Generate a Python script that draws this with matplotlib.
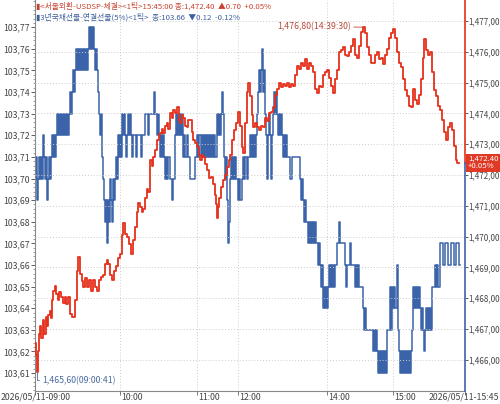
import matplotlib
matplotlib.use('Agg')
import matplotlib.pyplot as plt
from matplotlib.ticker import FixedLocator, MultipleLocator
import numpy as np

plt.rcParams['font.family'] = ['Noto Sans CJK KR', 'DejaVu Sans']
NARROW = ['Liberation Sans Narrow', 'Noto Sans CJK KR', 'DejaVu Sans']

# USD/KRW spot ticks (tick index, price)
fx_idx = [0, 1, 2, 3, 4, 5, 6, 8, 9, 11, 12, 13, 15, 16, 17, 18, 20, 21, 23, 24,
          26, 28, 30, 31, 33, 35, 37, 40, 42, 43, 45, 47, 48, 50, 52, 54, 56, 58, 60, 62,
          64, 66, 68, 70, 72, 73, 75, 77, 79, 81, 83, 85, 87, 88, 90, 92, 94, 96, 98, 100,
          102, 103, 105, 107, 108, 110, 112, 113, 115, 117, 118, 120, 122, 124, 125, 127, 128, 130, 132, 133,
          135, 137, 138, 140, 142, 144, 145, 147, 148, 150, 152, 153, 155, 157, 158, 160, 162, 164, 165, 167,
          168, 170, 172, 174, 176, 178, 180, 181, 182, 183, 184, 186, 188, 190, 192, 194, 195, 197, 199, 201,
          203, 205, 207, 208, 210, 212, 213, 215, 217, 218, 220, 222, 224, 226, 228, 230, 232, 234, 236, 238,
          240, 242, 244, 246, 248, 250, 252, 254, 256, 258, 260, 262, 264, 266, 268, 270, 272, 274, 276, 278,
          280, 282, 284, 286, 288, 290, 292, 294, 296, 298, 300, 302, 304, 306, 308, 310, 312, 314, 316, 318,
          320, 322, 324, 326, 328, 330, 332, 334, 336, 338, 340, 342, 344, 346, 348, 350, 352, 354, 356, 358,
          360, 362, 364, 366, 368, 370, 372, 374, 376, 378, 380, 382, 384, 386, 388, 389, 391, 393, 395, 397,
          399, 401, 403, 405, 407, 409, 411, 413, 415, 417, 419, 421, 422, 424]
fx_px = [1466.55, 1466.15, 1465.60, 1466.30, 1466.85, 1467.10, 1466.70, 1467.30, 1466.85, 1467.40,
         1467.10, 1467.45, 1467.60, 1467.35, 1467.95, 1468.25, 1468.40, 1468.15, 1467.95, 1468.20,
         1468.05, 1467.85, 1468.05, 1467.80, 1468.05, 1467.50, 1467.40, 1467.95, 1468.90, 1469.35,
         1468.80, 1468.55, 1468.35, 1468.65, 1468.35, 1468.60, 1468.25, 1468.60, 1468.35, 1468.25,
         1468.60, 1468.70, 1468.75, 1469.10, 1469.25, 1469.10, 1468.75, 1468.60, 1468.90, 1469.05,
         1469.30, 1469.45, 1470.05, 1470.45, 1470.10, 1470.00, 1469.75, 1469.45, 1469.90, 1470.30,
         1470.80, 1471.10, 1470.95, 1470.80, 1470.90, 1471.25, 1471.55, 1471.45, 1472.50, 1472.30,
         1472.60, 1472.80, 1473.15, 1473.30, 1473.35, 1473.50, 1473.35, 1473.60, 1473.70, 1473.50,
         1474.00, 1473.85, 1474.10, 1474.00, 1474.20, 1473.80, 1473.70, 1473.95, 1473.85, 1473.60,
         1473.55, 1473.80, 1473.80, 1473.40, 1473.15, 1473.05, 1472.90, 1472.65, 1472.50, 1472.65,
         1472.60, 1472.35, 1472.15, 1471.90, 1471.95, 1471.70, 1471.35, 1471.05, 1470.60, 1470.95,
         1471.25, 1471.60, 1471.85, 1472.00, 1472.25, 1472.50, 1472.65, 1473.15, 1473.45, 1473.70,
         1474.05, 1473.60, 1472.90, 1472.70, 1473.70, 1474.70, 1475.00, 1474.55, 1473.95, 1473.55,
         1473.70, 1473.55, 1473.45, 1473.60, 1473.55, 1473.85, 1473.75, 1474.00, 1474.05, 1474.20,
         1474.60, 1474.80, 1475.00, 1474.85, 1474.95, 1474.90, 1475.00, 1474.85, 1474.95, 1474.90,
         1475.25, 1475.55, 1475.45, 1475.65, 1475.55, 1475.75, 1475.45, 1475.65, 1475.55, 1475.35,
         1474.80, 1474.65, 1474.90, 1474.85, 1475.25, 1475.35, 1475.40, 1475.15, 1474.90, 1474.65,
         1475.10, 1475.40, 1476.00, 1476.05, 1476.15, 1475.90, 1475.85, 1476.00, 1476.20, 1476.40,
         1475.90, 1475.80, 1476.20, 1476.65, 1476.80, 1476.60, 1476.15, 1475.90, 1475.65, 1475.65,
         1475.90, 1476.00, 1475.75, 1475.80, 1475.60, 1475.90, 1476.10, 1476.45, 1476.60, 1476.75,
         1476.45, 1476.00, 1475.65, 1475.50, 1475.10, 1474.75, 1474.55, 1474.25, 1474.20, 1474.80,
         1474.45, 1474.30, 1474.60, 1475.10, 1475.80, 1476.40, 1476.05, 1475.90, 1476.00, 1475.35,
         1474.75, 1474.55, 1474.25, 1474.10, 1473.80, 1473.40, 1473.15, 1473.55, 1473.70, 1473.45,
         1472.95, 1472.50, 1472.40, 1472.40]

# 3y KTB futures ticks (tick index, price in 1/100 above 103)
bond_idx = list(range(0, 99)) + [
    101, 102, 106, 107, 110, 113, 114, 119, 120, 122, 123, 124, 125, 126, 127, 128, 129, 130, 131, 132,
    133, 135, 137, 138, 140, 141, 142, 143, 144, 145, 146, 147, 148, 149, 150, 152, 153, 155, 160, 162,
    163, 164, 166, 167, 168, 169, 170, 171, 172, 173, 174, 175, 176, 177, 178, 179, 180, 182, 183, 184,
    185, 186, 187, 188, 189, 190, 191, 192, 193, 194, 195, 196, 197, 198, 199, 200, 201, 203, 204, 205,
    207, 208, 209, 210, 212, 213, 215, 216, 217, 218, 219, 220, 221, 222, 223, 224, 225, 226, 227, 228,
    229, 230, 231, 232, 233, 234, 235, 236, 237, 238, 239, 240, 241, 242, 243, 244, 245, 246, 247, 248,
    249, 250, 251, 252, 255, 257, 265, 266, 267, 268, 269, 270, 271, 273, 274, 275, 276, 277, 278, 279,
    280, 281, 283, 284, 285, 286, 287, 288, 289, 290, 291, 292, 293, 294, 295, 296, 297, 298, 299, 300,
    302, 304, 305, 310, 311, 312, 315, 316, 320, 321, 322, 323, 324, 328, 329, 330, 331, 338, 339, 340,
    341, 342, 343, 344, 345, 346, 347, 348, 349, 350, 351, 352, 355, 356, 357, 358, 359, 360, 362, 363,
    364, 365, 366, 367, 368, 369, 370, 371, 372, 373, 374, 375, 376, 377, 378, 379, 380, 381, 382, 383,
    384, 385, 386, 387, 388, 389, 390, 391, 392, 393, 394, 395, 396, 397, 400, 401, 402, 403, 405, 408,
    410, 413, 416, 419, 421, 424, 425]
bond_lvl = [
    70, 71, 69, 70, 71, 70, 71, 70, 72, 71, 70, 71, 69, 70, 71, 70, 71, 72, 71, 72,
    71, 72, 73, 72, 73, 72, 73, 72, 73, 72, 73, 72, 73, 72, 73, 74, 73, 74, 75, 74,
    75, 76, 75, 76, 75, 76, 75, 76, 75, 76, 75, 76, 75, 76, 77, 76, 77, 76, 77, 76,
    75, 76, 75, 74, 73, 72, 73, 71, 70, 69, 68, 69, 67, 69, 68, 70, 69, 68, 70, 69,
    70, 71, 70, 72, 71, 72, 71, 73, 72, 73, 72, 71, 72, 73, 72, 73, 72, 71, 72,
    71, 72, 71, 72, 73, 72, 73, 74, 73, 72, 73, 72, 71, 72, 71, 72, 71, 70, 71, 70,
    71, 70, 69, 70, 72, 73, 72, 73, 72, 73, 72, 73, 71, 72, 71, 72, 71, 70, 71, 72,
    71, 72, 71, 72, 71, 72, 71, 72, 71, 72, 71, 72, 71, 72, 71, 72, 71, 73, 72, 73,
    72, 73, 74, 73, 71, 70, 71, 69, 67, 68, 70, 71, 70, 71, 70, 71, 70, 69, 70, 69,
    70, 71, 70, 71, 70, 71, 72, 71, 72, 71, 72, 71, 72, 73, 74, 75, 74, 75, 76, 74,
    75, 73, 72, 70, 72, 73, 72, 70, 72, 73, 74, 73, 74, 73, 72, 73, 72, 73, 72, 71,
    72, 71, 72, 71, 70, 71, 70, 69, 70, 69, 68, 69, 68, 67, 68, 67, 68, 67, 68, 67,
    68, 67, 66, 67, 66, 65, 66, 64, 65, 64, 65, 64, 65, 66, 65, 66, 65, 66, 65, 66,
    67, 68, 67, 66, 65, 66, 67, 66, 65, 66, 65, 66, 65, 64, 63, 64, 63, 62, 63, 62,
    63, 62, 61, 62, 61, 62, 61, 62, 61, 62, 61, 63, 65, 63, 65, 64, 65, 64, 66, 63,
    62, 61, 62, 61, 62, 61, 62, 61, 62, 61, 62, 61, 62, 63, 65, 64, 65, 64, 65, 64,
    65, 64, 63, 64, 63, 62, 63, 64, 63, 64, 63, 64, 63, 65, 66, 65, 66, 65, 67, 66,
    67, 66, 67, 66, 67, 66, 66]

x_tick_idx = [0, 85, 162, 203, 292, 358, 430]
x_tick_lbl = ['2026/05/11-09:00', '10:00', '11:00', '12:00', '14:00', '15:00', '2026/05/11-15:45']
bond_ticks = [103.61, 103.62, 103.63, 103.64, 103.65, 103.66, 103.67, 103.68,
              103.69, 103.70, 103.71, 103.72, 103.73, 103.74, 103.75, 103.76, 103.77]
fx_ticks = [1466, 1467, 1468, 1469, 1470, 1471, 1472, 1473, 1474, 1475, 1476, 1477]

RED = '#e5301c'
BLUE = '#3b63aa'
TXT = '#444444'

bond = 103 + np.array(bond_lvl) / 100.0
fx_idx = np.array(fx_idx)
fx_px = np.array(fx_px)

fig = plt.figure(figsize=(5, 4.04), dpi=100)
ax = fig.add_axes([35 / 500, 13 / 404, 430 / 500, 391 / 404])
ax2 = ax.twinx()

# bond futures on the left axis
ax.plot(bond_idx, bond, drawstyle='steps-post', color=BLUE, lw=1.1)
ax.set_ylim(103.6017, 103.7826)
ax.set_xlim(0, 430)
ax.yaxis.set_major_locator(FixedLocator(bond_ticks))
ax.set_yticklabels([f'{v:.2f}'.replace('.', ',') for v in bond_ticks], family=NARROW)
ax.yaxis.set_minor_locator(MultipleLocator(0.002))
ax.tick_params(axis='y', which='major', length=3, width=0.6, pad=1, labelsize=6.3, colors=TXT)
ax.tick_params(axis='y', which='minor', length=1.5, width=0.5, colors='#777777')

ax.xaxis.set_major_locator(FixedLocator(x_tick_idx))
ax.set_xticklabels([])
ax.tick_params(axis='x', length=3, width=0.6, colors='#666666')
for i, (xi, lb) in enumerate(zip(x_tick_idx, x_tick_lbl)):
    if i == 0:
        fig.text(1 / 500, 1 - 397 / 404, lb, fontsize=6.3, color=TXT, ha='left', va='center',
                 family=NARROW)
    elif i == len(x_tick_idx) - 1:
        fig.text(499 / 500, 1 - 397 / 404, lb, fontsize=6.3, color=TXT, ha='right', va='center',
                 family=NARROW)
    else:
        ax.annotate(lb, xy=(xi, 0), xycoords=ax.get_xaxis_transform(), xytext=(1, -6),
                    textcoords='offset pixels', fontsize=6.3, color=TXT, ha='left', va='center',
                    family=NARROW, annotation_clip=False)
ax.grid(axis='x', color='#cccccc', ls=(0, (1, 2)), lw=0.7)

ax.spines['top'].set_visible(False)
ax2.spines['top'].set_visible(False)
ax.spines['left'].set_color('#888888')
ax.spines['bottom'].set_color('#888888')
ax2.spines['right'].set_visible(False)
ax2.spines['left'].set_visible(False)
ax2.spines['bottom'].set_visible(False)
ax.spines['right'].set_visible(False)

# USD/KRW on the right axis
ax2.plot(fx_idx, fx_px, drawstyle='steps-post', color=RED, lw=1.3)
ax2.set_ylim(1464.99, 1477.68)
ax2.yaxis.set_major_locator(FixedLocator(fx_ticks))
ax2.set_yticklabels([f'{v:,.2f}'.replace('.', ',') for v in fx_ticks], family=NARROW)
ax2.tick_params(axis='y', length=2, width=0.6, pad=0.5, labelsize=5.8, colors=TXT)
ax2.grid(axis='y', color='#cccccc', ls=(0, (1, 2)), lw=0.7)
ax2.set_axisbelow(True)

last = fx_px[-1]
ytr = ax2.get_yaxis_transform()
ax2.plot([1, 1], [last, 1477.68], transform=ytr, color=RED, lw=1.2, clip_on=False)
ax2.plot([1, 1], [1464.99, last], transform=ytr, color=BLUE, lw=1.2, clip_on=False)

ax2.annotate(f'{last:,.2f}\n+0.05%', xy=(1, last), xycoords=ytr, xytext=(3, 0),
             textcoords='offset pixels', ha='left', va='center', fontsize=5.6, color='white',
             linespacing=0.85, annotation_clip=False, family=NARROW,
             bbox=dict(boxstyle='square,pad=0.2', fc='#e03a26', ec='none'))

# high / low markers
imax = int(np.argmax(fx_px))
imin = int(np.argmin(fx_px))
hi_txt = f'{fx_px[imax]:,.2f}'.replace('.', ',') + '(14:39:30)'
lo_txt = f'{fx_px[imin]:,.2f}'.replace('.', ',') + '(09:00:41)'
ax2.annotate(hi_txt, xy=(fx_idx[imax], fx_px[imax]), xytext=(-12, 0), textcoords='offset pixels',
             ha='right', va='center', fontsize=6.3, color='#b84a3c', family=NARROW,
             arrowprops=dict(arrowstyle='-', color='#b84a3c', lw=0.6, shrinkA=0, shrinkB=0))
ax2.annotate(lo_txt, xy=(fx_idx[imin], fx_px[imin]), xytext=(5, -8), textcoords='offset pixels',
             ha='left', va='center', fontsize=6.3, color='#4a6aa0', family=NARROW,
             arrowprops=dict(arrowstyle='-', color='#4a6aa0', lw=0.6, shrinkA=0, shrinkB=0,
                             connectionstyle='angle,angleA=0,angleB=90,rad=0'))

# header lines
fig.text(36 / 500, 1 - 6 / 404, '▮<서울외환-USDSP-체결><1틱>15:45:00 종:1,472.40  ▲0.70  +0.05%',
         fontsize=5.6, color='#c8402e', ha='left', va='center')
fig.text(36 / 500, 1 - 17 / 404, '▮3년국채선물-연결선물(5%)<1틱>  종:103.66  ▼0.12  -0.12%',
         fontsize=5.6, color='#3d5f9e', ha='left', va='center')

fig.savefig('out.png', dpi=100)
